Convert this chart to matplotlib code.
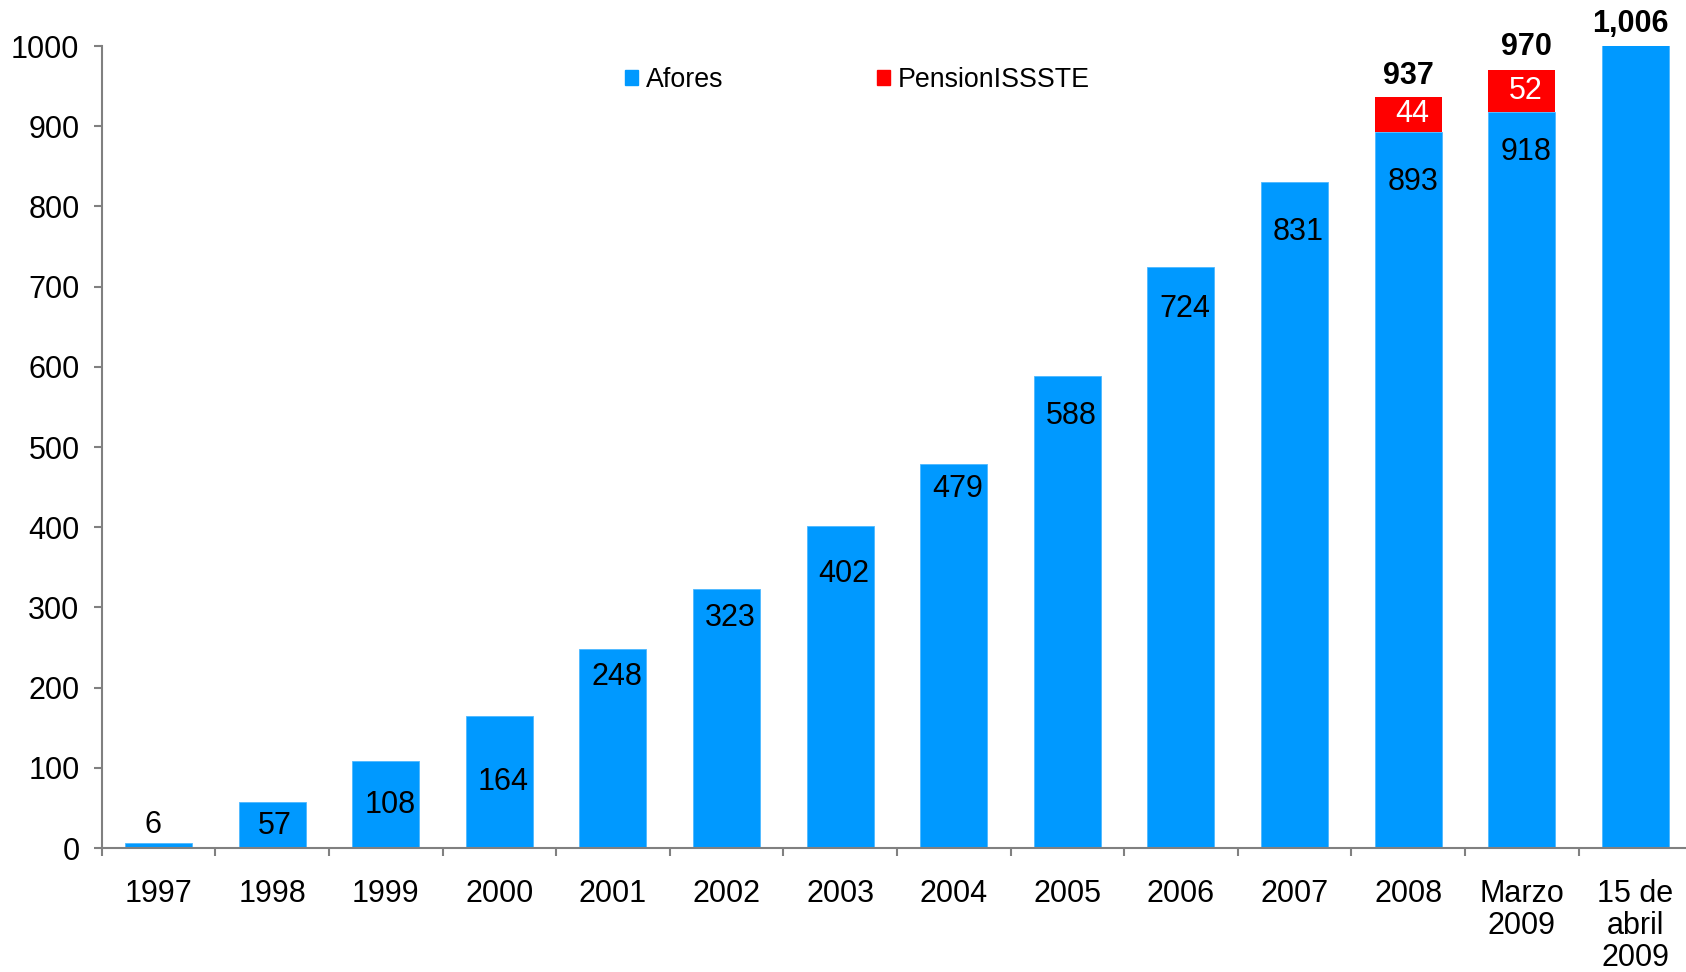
import matplotlib
matplotlib.use("Agg")
import matplotlib.pyplot as plt
from matplotlib.patches import Patch
import numpy as np

plt.rcParams['font.family'] = ['Liberation Sans', 'DejaVu Sans']

# data
categories = ['1997', '1998', '1999', '2000', '2001', '2002', '2003', '2004',
              '2005', '2006', '2007', '2008', 'Marzo\n2009', '15 de\nabril\n2009']
afores = [6, 57, 108, 164, 248, 323, 402, 479, 588, 724, 831, 893, 918, 1006]
pension = [0, 0, 0, 0, 0, 0, 0, 0, 0, 0, 0, 44, 52, 0]
totals = ['', '', '', '', '', '', '', '', '', '', '', '937', '970', '1,006']

# label placement tweaks (pixels from the top of each bar, up is positive)
afores_lbl_dy = [18, -24, -44, -66, -28, -29, -48, -25, -40, -42, -50, -50, -40, None]
afores_lbl_dx = [-6, 3, 4, 4, 4, 4, 4, 4, 4, 4, 4, 5, 4, 0]
total_lbl_dy = [0, 0, 0, 0, 0, 0, 0, 0, 0, 0, 0, 21, 23, 17]
total_lbl_dx = [0, 0, 0, 0, 0, 0, 0, 0, 0, 0, 0, 0, 5, -5]

BLUE = '#0099ff'
RED = '#ff0000'
GREY = '#808080'
px = 72.0 / 100  # pixels -> points at dpi 100

fig = plt.figure(figsize=(16.86, 9.72), dpi=100)
ax = fig.add_axes([101.7 / 1686, 1 - 848 / 972, 1590.4 / 1686, 802 / 972])

x = np.arange(len(categories))
afores = np.array(afores)
pension = np.array(pension)
ax.bar(x, afores, width=0.59, color=BLUE, edgecolor='#4db8ff', linewidth=0.6)
ax.bar(x, pension, width=0.59, bottom=afores, color=RED, linewidth=0)

ax.set_xlim(-0.5, len(categories) - 0.5)
ax.set_ylim(0, 1000)
ax.set_yticks(np.arange(0, 1001, 100))

for s in ['top', 'right']:
    ax.spines[s].set_visible(False)
for s in ['left', 'bottom']:
    ax.spines[s].set_color(GREY)
    ax.spines[s].set_linewidth(1.5)

ax.set_xticks(x)
ax.set_xticklabels(categories, linespacing=1.08)
ax.set_xticks(np.arange(-0.5, len(categories), 1), minor=True)
ax.tick_params(axis='x', which='major', length=0, pad=22.5, labelsize=22)
ax.tick_params(axis='x', which='minor', length=6, width=1.5, color=GREY)
ax.tick_params(axis='y', length=6, width=1.5, color=GREY, pad=10, labelsize=22)

# values inside the bars
for i, v in enumerate(afores):
    dy = afores_lbl_dy[i]
    if dy is None:
        continue
    ax.annotate(str(v), (x[i], min(v, 1000)), xytext=(afores_lbl_dx[i] * px, dy * px),
                textcoords='offset points', ha='center', va='center',
                fontsize=22, color='black')
for i, v in enumerate(pension):
    if v == 0:
        continue
    ax.annotate(str(v), (x[i], afores[i] + v / 2), xytext=(4 * px, 0),
                textcoords='offset points', ha='center', va='center',
                fontsize=22, color='white')
for i, t in enumerate(totals):
    if not t:
        continue
    top = afores[i] + pension[i]
    ax.annotate(t, (x[i], top), xytext=(total_lbl_dx[i] * px, total_lbl_dy[i] * px),
                textcoords='offset points', ha='center', va='center',
                fontsize=22, fontweight='bold', annotation_clip=False)

handles = [Patch(color=BLUE, label='Afores'), Patch(color=RED, label='PensionISSSTE')]
fig.legend(handles=handles, loc='center left', bbox_to_anchor=(625 / 1686, 1 - 80 / 972),
           ncol=2, frameon=False, fontsize=19.3, handlelength=0.5, handleheight=0.5,
           handletextpad=0.3, columnspacing=5.7, borderpad=0, borderaxespad=0)

fig.savefig('out.png', dpi=100)
